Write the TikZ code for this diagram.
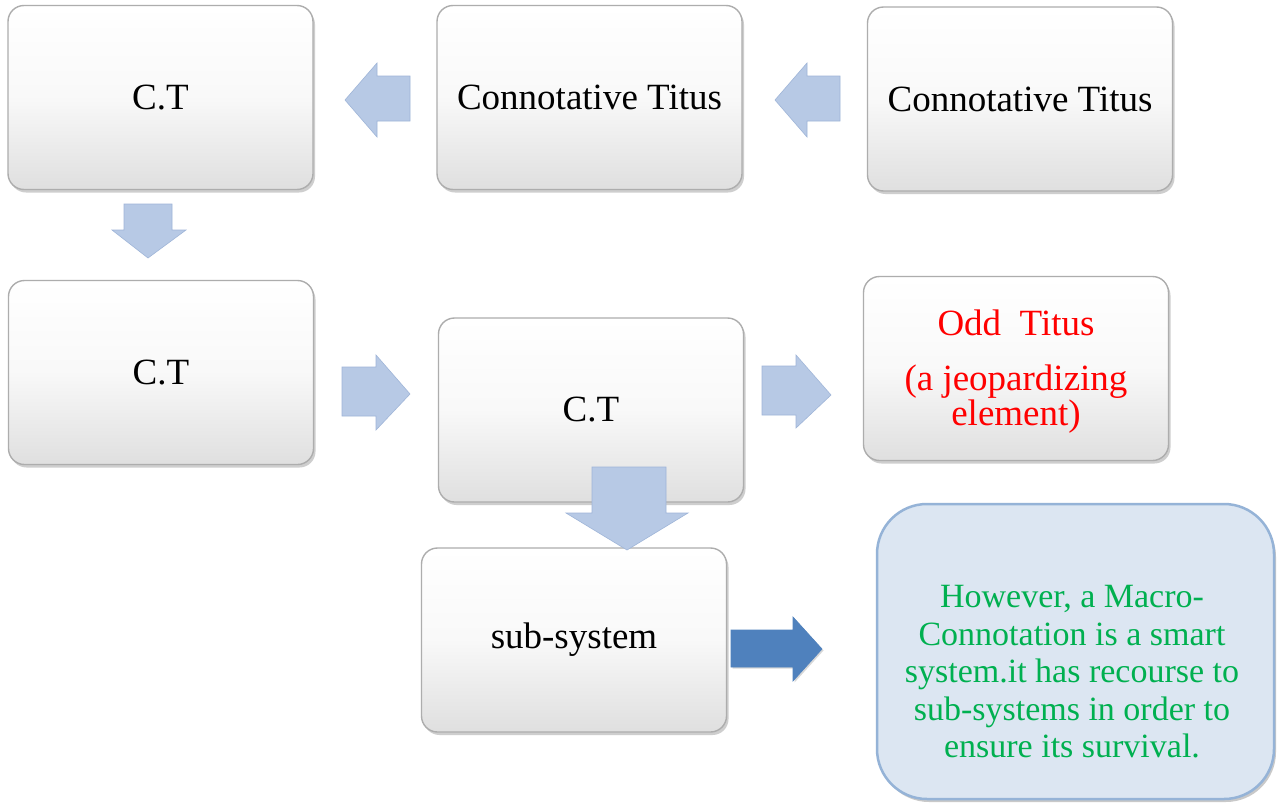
\documentclass[tikz,border=0pt]{standalone}
\usepackage{fontspec}
\setmainfont{Liberation Serif}
\newfontfamily\tnr{Liberation Serif}
\usetikzlibrary{shadows}
\definecolor{arrowblue}{HTML}{B7C9E5}
\definecolor{arrowedge}{HTML}{9FB5D8}
\definecolor{darkarrow}{HTML}{4F81BD}
\definecolor{notefill}{HTML}{DCE6F2}
\definecolor{noteedge}{HTML}{95B3D7}
\definecolor{notegreen}{HTML}{00B050}
\definecolor{boxedge}{HTML}{ADADAD}
\tikzset{
  glossbox/.style={rectangle, rounded corners=16pt, draw=boxedge, line width=1.4pt,
    top color=white, bottom color=gray!25, middle color=white!95!gray,
    minimum width=305pt, minimum height=184pt, inner sep=0pt,
    drop shadow={shadow xshift=2pt, shadow yshift=-3pt, fill=gray!70, opacity=0.55},
    font=\tnr\fontsize{37}{40}\selectfont, align=center},
  notebox/.style={rectangle, rounded corners=50pt, draw=noteedge, line width=2.5pt,
    fill=notefill, minimum width=397pt, minimum height=295pt, inner sep=0pt,
    drop shadow={shadow xshift=2pt, shadow yshift=-3pt, fill=gray!70, opacity=0.6}},
  notetext/.style={font=\tnr\fontsize{34}{37.5}\selectfont, text=notegreen, align=center},
  oddtext/.style={font=\tnr\fontsize{37}{35}\selectfont, text=red, align=center},
  blockarrow/.style={fill=arrowblue, draw=arrowedge, line width=0.6pt, line join=miter},
  darkblockarrow/.style={fill=darkarrow, draw=darkarrow, line width=0.6pt,
    drop shadow={shadow xshift=1.5pt, shadow yshift=-1.5pt, fill=gray!60, opacity=0.5}}
}
\begin{document}
\begin{tikzpicture}[x=1pt,y=-1pt]
\useasboundingbox (0,0) rectangle (1277,806);
\fill[white] (0,0) rectangle (1277,806);

% boxes
\node[glossbox] (b1) at (160.5,97.5) {C.T};
\node[glossbox] (b2) at (589.5,97.5) {Connotative Titus};
\node[glossbox] (b3) at (1020,99) {Connotative Titus};
\node[glossbox] (b4) at (161,372.5) {C.T};
\node[glossbox] (b5) at (591,410) {C.T};
\node[glossbox] (b6) at (1016,368.5) {};
\node[oddtext] (t6) at (1016,372) {Odd~~Titus\\[20pt](a jeopardizing\\element)};
\node[glossbox] (b7) at (574,640) {sub-system};
\node[notebox] (b8) at (1075.5,651.5) {};
\node[notetext] (t8) at (1072,672) {However, a Macro-\\Connotation is a smart\\system.it has recourse to\\sub-systems in order to\\ensure its survival.};

% left arrows (top row)
\draw[blockarrow] (345,100) -- (377,63) -- (377,76) -- (410,76) -- (410,121) -- (377,121) -- (377,137) -- cycle;
\draw[blockarrow] (775,100) -- (807,63) -- (807,76) -- (840,76) -- (840,121) -- (807,121) -- (807,137) -- cycle;
% down arrow under b1
\draw[blockarrow] (124,204) -- (172,204) -- (172,230) -- (186,230) -- (148,258) -- (112,230) -- (124,230) -- cycle;
% right arrows (middle row)
\draw[blockarrow] (342,367) -- (376,367) -- (376,355) -- (410,394) -- (376,430) -- (376,416) -- (342,416) -- cycle;
\draw[blockarrow] (762,366) -- (796,366) -- (796,355) -- (831,395) -- (796,428) -- (796,415) -- (762,415) -- cycle;
% down arrow from b5 to b7
\draw[blockarrow] (592,467) -- (666,467) -- (666,513) -- (688,513) -- (627,550) -- (566,513) -- (592,513) -- cycle;
% dark arrow to note
\draw[darkblockarrow] (731,630) -- (793,630) -- (793,617) -- (822,649) -- (793,681) -- (793,667) -- (731,667) -- cycle;
\end{tikzpicture}
\end{document}
